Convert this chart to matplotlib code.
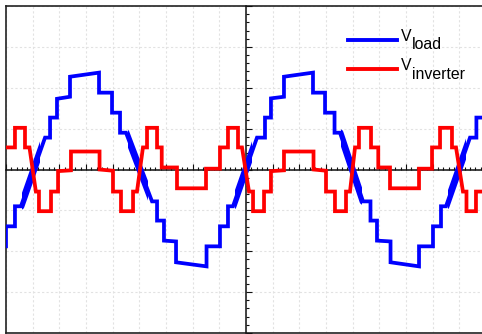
import matplotlib
matplotlib.use("Agg")
import matplotlib.pyplot as plt
from matplotlib.lines import Line2D
from matplotlib.patches import Rectangle
from matplotlib.ticker import MultipleLocator

plt.rcParams['font.family'] = ['Liberation Sans', 'DejaVu Sans']

# Load voltage (time in ms, voltage in V)
t_load = [-23.5, -22.5, -22.5, -21.66, -21.66, -21.1, -18.84, -18.37, -18.37, -17.72,
          -17.72, -16.5, -16.5, -13.78, -13.78, -12.56, -12.56, -11.81, -11.81, -11.25,
          -8.81, -8.34, -8.34, -7.69, -7.69, -6.56, -6.56, -3.7, -3.7, -2.44,
          -2.44, -1.69, -1.69, -1.22, 1.03, 1.78, 1.78, 2.34, 2.34, 3.56,
          3.56, 6.28, 6.28, 7.41, 7.41, 8.3, 8.3, 8.81, 10.97, 11.67,
          11.67, 12.28, 12.28, 13.55, 13.55, 16.22, 16.22, 17.53, 17.53, 18.28,
          18.28, 18.75, 21.0, 21.6, 21.6, 23.0]
v_load = [-188, -188, -139, -139, -90, -90, 78, 78, 127, 127,
          173, 178, 227, 237, 188, 188, 139, 139, 90, 90,
          -78, -78, -125, -125, -174, -176, -227, -237, -188, -188,
          -139, -139, -90, -90, 78, 78, 127, 127, 174, 178,
          227, 237, 188, 188, 139, 139, 90, 90, -78, -78,
          -125, -125, -174, -176, -227, -237, -188, -188, -139, -139,
          -90, -90, 78, 78, 127, 127]

# Switching-ripple intervals around the load-voltage zero crossings (ms)
ripple_windows = [(-21.0, -19.3), (-11.1, -9.2), (-1.0, 0.6), (8.95, 10.85), (18.9, 20.6)]

# Inverter output voltage (time in ms, voltage in V)
t_inv = [-23.5, -21.66, -21.66, -20.72, -20.72, -20.3, -19.7, -19.41, -19.41, -18.28,
         -18.28, -17.62, -17.62, -16.41, -16.41, -13.73, -13.73, -12.47, -12.47, -11.72,
         -11.72, -10.59, -10.59, -10.22, -9.66, -9.28, -9.28, -8.34, -8.34, -7.9,
         -7.9, -6.47, -6.47, -3.75, -3.75, -2.44, -2.44, -1.69, -1.69, -0.75,
         -0.75, -0.375, 0.28, 0.66, 0.66, 1.69, 1.69, 2.34, 2.34, 3.56,
         3.56, 6.33, 6.33, 7.5, 7.5, 8.34, 8.34, 9.375, 9.375, 9.75,
         10.22, 10.59, 10.59, 11.72, 11.72, 12.4, 12.4, 13.5, 13.5, 16.22,
         16.22, 17.44, 17.44, 18.19, 18.19, 19.31, 19.31, 19.69, 20.34, 20.67,
         20.67, 21.56, 21.56, 23.0]
v_inv = [54, 54, 102, 102, 54, 54, -54, -54, -102, -102,
         -54, -54, -4, -2, 44, 44, 0, -3, -54, -54,
         -102, -102, -54, -54, 54, 54, 102, 102, 54, 54,
         5, 5, -46, -46, 2, 2, 54, 54, 102, 102,
         54, 54, -54, -54, -102, -102, -54, -54, -4, -2,
         44, 44, 0, -3, -54, -54, -102, -102, -54, -54,
         54, 54, 102, 102, 54, 54, 5, 5, -46, -46,
         2, 2, 54, 54, 102, 102, 54, 54, -54, -54,
         -102, -102, -54, -54]

W, H = 482, 334
fig = plt.figure(figsize=(W / 100, H / 100), dpi=100)
rect = [6 / W, 1 / H, 480 / W, 327 / H]

# Frame and dotted grid
ax = fig.add_axes(rect)
ax.set_xlim(-22.5, 22.5)
ax.set_ylim(-400, 400)
ax.xaxis.set_major_locator(MultipleLocator(2.5))
ax.yaxis.set_major_locator(MultipleLocator(100))
ax.grid(True, which='major', color='#e2e2e2', linestyle=(0, (2, 2)), linewidth=0.8)
for s in ax.spines.values():
    s.set_color('#222222')
    s.set_linewidth(1.2)

# Centre axes with graduation ticks, and the traces
ax2 = fig.add_axes(rect)
ax2.set_xlim(-22.5, 22.5)
ax2.set_ylim(-400, 400)
ax2.patch.set_visible(False)
ax2.spines['left'].set_position('zero')
ax2.spines['bottom'].set_position('zero')
ax2.spines['top'].set_visible(False)
ax2.spines['right'].set_visible(False)
for s in ('left', 'bottom'):
    ax2.spines[s].set_color('#111111')
    ax2.spines[s].set_linewidth(1.1)
ax2.xaxis.set_major_locator(MultipleLocator(2.5))
ax2.xaxis.set_minor_locator(MultipleLocator(0.5))
ax2.yaxis.set_major_locator(MultipleLocator(100))
ax2.yaxis.set_minor_locator(MultipleLocator(20))
ax2.tick_params(which='both', direction='in', labelbottom=False, labelleft=False,
                color='#111111', width=0.8)
ax2.tick_params(which='major', length=4.5)
ax2.tick_params(which='minor', length=2.3)

# Outer frame carries no ticks
ax.tick_params(which='both', length=0, labelbottom=False, labelleft=False)

blue = '#0000ff'
red = '#ff0000'
ax2.plot(t_load, v_load, color=blue, lw=2.7, zorder=3, solid_joinstyle='miter')
for t0, t1 in ripple_windows:
    ln, = ax2.plot(t_load, v_load, color=blue, lw=5.0, zorder=3, solid_capstyle='round')
    ln.set_clip_path(Rectangle((t0, -400), t1 - t0, 800, transform=ax2.transData))
ax2.plot(t_inv, v_inv, color=red, lw=2.7, zorder=4, solid_joinstyle='miter')

# Legend
fs = 11.4
fig.add_artist(Line2D([348 / W, 397 / W], [1 - 40 / H, 1 - 40 / H], color=blue, lw=2.8))
fig.add_artist(Line2D([348 / W, 397 / W], [1 - 68.5 / H, 1 - 68.5 / H], color=red, lw=2.8))
fig.text(401 / W, 1 - 40.7 / H, 'V', fontsize=fs, va='baseline', ha='left')
fig.text(412 / W, 1 - 49.3 / H, 'load', fontsize=fs, va='baseline', ha='left')
fig.text(401 / W, 1 - 70 / H, 'V', fontsize=fs, va='baseline', ha='left')
fig.text(412 / W, 1 - 79 / H, 'inverter', fontsize=fs, va='baseline', ha='left')

fig.savefig('out.png', dpi=100)
